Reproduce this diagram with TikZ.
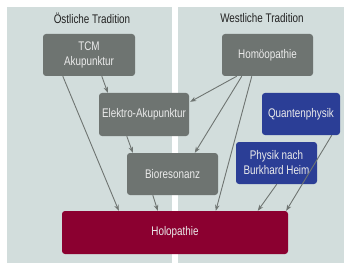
\documentclass[tikz,border=0pt]{standalone}
\usepackage{fontspec}
\setmainfont{Liberation Sans}[FakeStretch=0.79]
\usetikzlibrary{arrows.meta,calc}
\definecolor{panelbg}{HTML}{D2DDDC}
\definecolor{boxgrey}{HTML}{6E7471}
\definecolor{boxblue}{HTML}{2B3E96}
\definecolor{boxred}{HTML}{8B0030}
\definecolor{arrowgrey}{HTML}{6F7572}
\definecolor{titlecol}{HTML}{222222}
\begin{document}
\begin{tikzpicture}[x=1pt,y=-1pt,
  panel/.style={fill=panelbg,draw=none},
  ptitle/.style={text=titlecol,font=\fontsize{12.5}{14}\selectfont,inner sep=0pt},
  box/.style={rounded corners=3pt,draw=none,text=white!92!black,align=center,
    font=\fontsize{12.5}{15}\selectfont,inner sep=0pt},
  greybox/.style={box,fill=boxgrey},
  bluebox/.style={box,fill=boxblue},
  redbox/.style={box,fill=boxred},
  conn/.style={draw=arrowgrey,line width=0.9pt,-{Stealth[length=6pt,width=4.5pt]}}]
\useasboundingbox (0,0) rectangle (351,270);
\fill[white] (0,0) rectangle (351,270);
\path[panel] (7,7) rectangle (172,263);
\path[panel] (178,7) rectangle (344,263);
\node[ptitle] (teast) at (92,18) {Östliche Tradition};
\node[ptitle] (twest) at (262,18) {Westliche Tradition};
\node[greybox,minimum width=92pt,minimum height=42pt] (tcm) at (89,55) {TCM\\Akupunktur};
\node[greybox,minimum width=91pt,minimum height=42pt] (homo) at (267.5,55) {Homöopathie};
\node[greybox,minimum width=90pt,minimum height=43pt] (elek) at (144,114.5) {Elektro-Akupunktur};
\node[bluebox,minimum width=78pt,minimum height=42pt] (quant) at (301,114) {Quantenphysik};
\node[greybox,minimum width=91pt,minimum height=42pt] (bio) at (172.5,174) {Bioresonanz};
\node[bluebox,minimum width=81pt,minimum height=42pt] (phys) at (276.5,163) {Physik nach\\Burkhard Heim};
\node[redbox,minimum width=226pt,minimum height=43pt] (holo) at (175,232.5) {Holopathie};
\draw[conn] ([xshift=20pt]tcm.south west) -- ([xshift=57pt]holo.north west);
\draw[conn] ([xshift=59pt]tcm.south west) -- ([xshift=9pt]elek.north west);
\draw[conn] ([xshift=15pt]homo.south west) -- ([xshift=1pt,yshift=-9pt]elek.north east);
\draw[conn] ([xshift=20pt]homo.south west) -- ([xshift=68pt]bio.north west);
\draw[conn] ([xshift=30pt]homo.south west) -- ([xshift=154pt]holo.north west);
\draw[conn] ([xshift=28pt]elek.south west) -- ([xshift=6pt]bio.north west);
\draw[conn] ([xshift=26pt]bio.south west) -- ([xshift=96pt]holo.north west);
\draw[conn] ([xshift=70pt]quant.south west) -- ([xshift=-2pt]holo.north east);
\draw[conn] ([xshift=41pt]phys.south west) -- ([xshift=196pt]holo.north west);
\end{tikzpicture}
\end{document}
